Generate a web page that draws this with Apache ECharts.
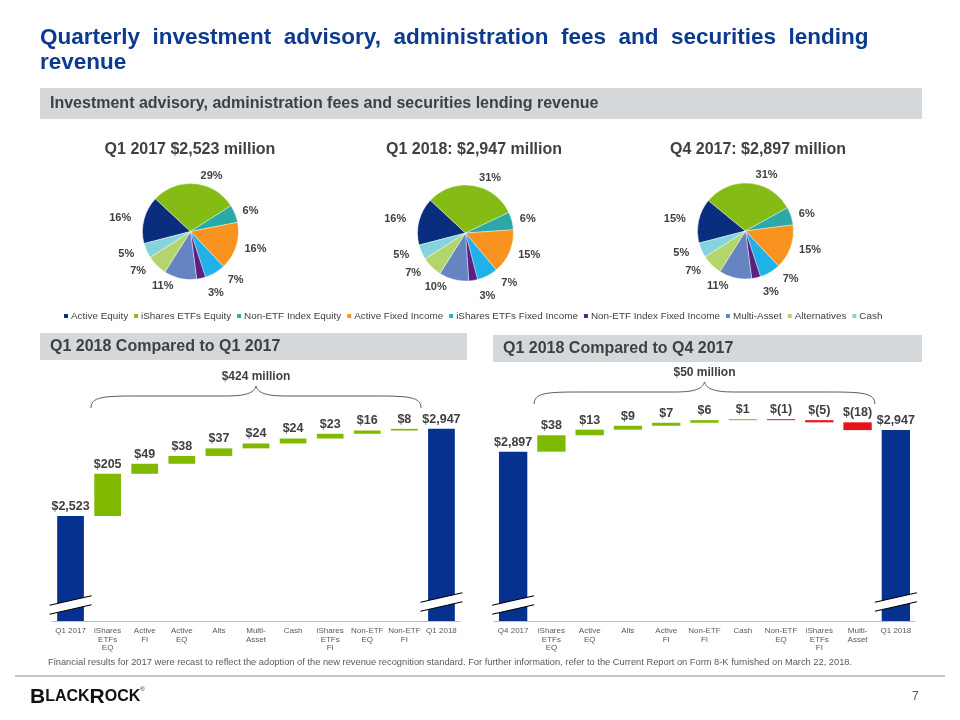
<!DOCTYPE html>
<html><head><meta charset="utf-8">
<script src="https://cdn.jsdelivr.net/npm/echarts@6/dist/echarts.min.js"></script>
<style>html,body{margin:0;padding:0;background:#fff}#c{width:960px;height:720px}</style>
</head><body><div id="c"></div>
<script>
// ---------- data ----------
const segments = ['Active Equity','iShares ETFs Equity','Non-ETF Index Equity','Active Fixed Income','iShares ETFs Fixed Income','Non-ETF Index Fixed Income','Multi-Asset','Alternatives','Cash'];
const segmentColors = ['#0a2d7e','#84bb14','#2aa9a8','#f7931e','#1fb1e8','#5b2180','#6683c2','#b4d56b','#85d3dc'];
const pieQ1_2017 = [16,29,6,16,7,3,11,7,5];
const pieQ1_2018 = [16,31,6,15,7,3,10,7,5];
const pieQ4_2017 = [15,31,6,15,7,3,11,7,5];
const pieTitles = ['Q1 2017 $2,523 million','Q1 2018: $2,947 million','Q4 2017: $2,897 million'];

const wf1Categories = ['Q1 2017','iShares\nETFs\nEQ','Active\nFI','Active\nEQ','Alts','Multi-\nAsset','Cash','iShares\nETFs\nFI','Non-ETF\nEQ','Non-ETF\nFI','Q1 2018'];
const wf1Start = 2523;
const wf1Changes = [205,49,38,37,24,24,23,16,8];
const wf1End = 2947;
const wf1Brace = '$424 million';

const wf2Categories = ['Q4 2017','iShares\nETFs\nEQ','Active\nEQ','Alts','Active\nFI','Non-ETF\nFI','Cash','Non-ETF\nEQ','iShares\nETFs\nFI','Multi-\nAsset','Q1 2018'];
const wf2Start = 2897;
const wf2Changes = [38,13,9,7,6,1,-1,-5,-18];
const wf2End = 2947;
const wf2Brace = '$50 million';

// ---------- helpers ----------
const FONT = "'Liberation Sans', Arial, sans-serif";
const GRAY = '#404040';
const BLUE = '#06318f', GREEN = '#7fba00', RED = '#e8141c';
function money(v){ return v < 0 ? '$(' + Math.abs(v) + ')' : '$' + v.toLocaleString('en-US'); }

function buildWaterfall(start, changes, end){
  const base = ['-'], delta = ['-'];
  let run = start;
  changes.forEach(c => {
    if (c >= 0) { base.push(run); delta.push({value:c, itemStyle:{color:GREEN}}); }
    else { base.push(run + c); delta.push({value:-c, itemStyle:{color:RED}}); }
    run += c;
  });
  base.push('-'); delta.push('-');
  const total = [start].concat(changes.map(() => '-'), [end]);
  return {base, delta, total};
}
const w1 = buildWaterfall(wf1Start, wf1Changes, wf1End);
const w2 = buildWaterfall(wf2Start, wf2Changes, wf2End);

const labelStyle = {show:true, position:'top', distance:3, color:GRAY, fontSize:12.5, fontWeight:'bold', fontFamily:FONT};

function wfSeries(w, changes, idx, bw){
  return [
    {type:'bar', xAxisIndex:idx, yAxisIndex:idx, stack:'wf'+idx, data:w.base, barWidth:bw,
     itemStyle:{color:'transparent'}, silent:true, emphasis:{disabled:true}},
    {type:'bar', xAxisIndex:idx, yAxisIndex:idx, stack:'wf'+idx, data:w.delta, barWidth:bw, barMinHeight:1,
     label:Object.assign({}, labelStyle, {formatter: p => money(changes[p.dataIndex-1])})},
    {type:'bar', xAxisIndex:idx, yAxisIndex:idx, data:w.total, barWidth:bw, barGap:'-100%',
     itemStyle:{color:BLUE}, label:Object.assign({}, labelStyle, {formatter: p => money(p.value)})}
  ];
}

function pieSeries(vals, center){
  return {type:'pie', radius:48, center:center, startAngle:194.6, clockwise:true,
    data: segments.map((n,i)=>({name:n, value:vals[i], itemStyle:{color:segmentColors[i]}})),
    itemStyle:{borderColor:'#fff', borderWidth:0.4},
    label:{show:true, position:'outside', formatter:'{c}%', color:GRAY, fontSize:11, fontWeight:'bold', fontFamily:FONT},
    labelLine:{show:false, length:8, length2:0},
    emphasis:{disabled:true}};
}

const axisLabel = {interval:0, color:'#595959', fontSize:8, fontFamily:FONT, lineHeight:8.5, margin:6};

const chart = echarts.init(document.getElementById('c'), null, {renderer:'canvas'});
const option = {
  animation:false,
  textStyle:{fontFamily:FONT},
  legend:{data:segments, left:62, top:311, padding:0, icon:'rect', itemWidth:6, itemHeight:6, itemGap:4,
    textStyle:{color:GRAY, fontSize:9.9, fontFamily:FONT, padding:[0,0,0,-3]}},
  grid:[
    {left:52, width:408, top:380, bottom:99, containLabel:false},
    {left:494, width:421, top:380, bottom:99, containLabel:false}
  ],
  xAxis:[
    {type:'category', gridIndex:0, data:wf1Categories, axisTick:{show:false}, axisLine:{lineStyle:{color:'#bfbfbf'}}, axisLabel:axisLabel},
    {type:'category', gridIndex:1, data:wf2Categories, axisTick:{show:false}, axisLine:{lineStyle:{color:'#bfbfbf'}}, axisLabel:axisLabel}
  ],
  yAxis:[
    {type:'value', gridIndex:0, min:2011, max:3185, show:false, splitLine:{show:false}},
    {type:'value', gridIndex:1, min:2505, max:3063, show:false, splitLine:{show:false}}
  ],
  series:[
    pieSeries(pieQ1_2017, [190.5, 231.5]),
    pieSeries(pieQ1_2018, [465.5, 233]),
    pieSeries(pieQ4_2017, [745.5, 231]),
    ...wfSeries(w1, wf1Changes, 0, '72%'),
    ...wfSeries(w2, wf2Changes, 1, '74%')
  ]
};
chart.setOption(option);

// ---------- decorations (positioned from the chart's own scales) ----------
const g = [];
g.push({type:'text', x:40, y:37, z:10, style:{text:'Quarterly  investment  advisory,  administration  fees  and  securities  lending\nrevenue', fill:'#0c3a8e', font:'bold 22.5px '+FONT, lineHeight:25, verticalAlign:'top', y:-12}});
g.push({type:'rect', shape:{x:40, y:88, width:882, height:31}, style:{fill:'#d5d8db'}, z:1});
g.push({type:'text', x:50, y:104, z:10, style:{text:'Investment advisory, administration fees and securities lending revenue', fill:GRAY, font:'bold 16px '+FONT, verticalAlign:'middle'}});
[[190, pieTitles[0]],[474, pieTitles[1]],[758, pieTitles[2]]].forEach(([x,t])=>{
  g.push({type:'text', x:x, y:150, z:10, style:{text:t, fill:GRAY, font:'bold 16px '+FONT, align:'center', verticalAlign:'middle'}});
});
g.push({type:'rect', shape:{x:40, y:333, width:427, height:27}, style:{fill:'#d5d8db'}, z:1});
g.push({type:'text', x:50, y:346.5, z:10, style:{text:'Q1 2018 Compared to Q1 2017', fill:GRAY, font:'bold 16px '+FONT, verticalAlign:'middle'}});
g.push({type:'rect', shape:{x:493, y:335, width:429, height:27}, style:{fill:'#d5d8db'}, z:1});
g.push({type:'text', x:503, y:348.5, z:10, style:{text:'Q1 2018 Compared to Q4 2017', fill:GRAY, font:'bold 16px '+FONT, verticalAlign:'middle'}});

function decorate(idx, cats, yMin, braceText, labelY){
  const cx = i => chart.convertToPixel({xAxisIndex:idx}, i);
  const base = chart.convertToPixel({yAxisIndex:idx}, yMin);
  const step = cx(1) - cx(0);
  // axis breaks on the two total bars
  [0, cats.length-1].forEach((i, n)=>{
    const c = cx(i), ym = base - (n === 0 ? 16 : 19), k = 10/44, h = 21, gap = 4.5;
    const yu = x => ym - gap - (x - c)*k, yl = x => ym + gap - (x - c)*k;
    g.push({type:'polygon', z:50, shape:{points:[[c-h,yu(c-h)],[c+h,yu(c+h)],[c+h,yl(c+h)],[c-h,yl(c-h)]]}, style:{fill:'#fff'}});
    g.push({type:'line', z:51, shape:{x1:c-h, y1:yu(c-h), x2:c+h, y2:yu(c+h)}, style:{stroke:'#000', lineWidth:1.1}});
    g.push({type:'line', z:51, shape:{x1:c-h, y1:yl(c-h), x2:c+h, y2:yl(c+h)}, style:{stroke:'#000', lineWidth:1.1}});
  });
  // curly brace
  const x0 = cx(1) - step*0.45, x1 = cx(cats.length-2) + step*0.45, mid = (x0+x1)/2;
  const yEnd = labelY + 31, yLine = labelY + 19, yTip = labelY + 9;
  const st = {fill:null, stroke:'#595959', lineWidth:1};
  g.push({type:'bezierCurve', z:20, shape:{x1:x0, y1:yEnd, cpx1:x0, cpy1:yLine+1, cpx2:x0+12, cpy2:yLine, x2:x0+45, y2:yLine}, style:st});
  g.push({type:'line', z:20, shape:{x1:x0+45, y1:yLine, x2:mid-30, y2:yLine}, style:st});
  g.push({type:'bezierCurve', z:20, shape:{x1:mid-30, y1:yLine, cpx1:mid-10, cpy1:yLine, cpx2:mid-2, cpy2:yLine-3, x2:mid, y2:yTip}, style:st});
  g.push({type:'bezierCurve', z:20, shape:{x1:mid, y1:yTip, cpx1:mid+2, cpy1:yLine-3, cpx2:mid+10, cpy2:yLine, x2:mid+30, y2:yLine}, style:st});
  g.push({type:'line', z:20, shape:{x1:mid+30, y1:yLine, x2:x1-45, y2:yLine}, style:st});
  g.push({type:'bezierCurve', z:20, shape:{x1:x1-45, y1:yLine, cpx1:x1-12, cpy1:yLine, cpx2:x1, cpy2:yLine+1, x2:x1, y2:yEnd}, style:st});
  g.push({type:'text', x:mid, y:labelY, z:20, style:{text:braceText, fill:GRAY, font:'bold 12px '+FONT, align:'center', verticalAlign:'middle'}});
}
decorate(0, wf1Categories, 2011, wf1Brace, 377);
decorate(1, wf2Categories, 2505, wf2Brace, 373);

g.push({type:'text', x:48, y:662, z:10, style:{text:'Financial results for 2017 were recast to reflect the adoption of the new revenue recognition standard. For further information, refer to the Current Report on Form 8-K furnished on March 22, 2018.', fill:'#595959', font:'9.3px '+FONT, verticalAlign:'middle'}});
g.push({type:'line', z:10, shape:{x1:15, y1:676, x2:945, y2:676}, style:{stroke:'#8c8c8c', lineWidth:1}});
g.push({type:'text', x:30, y:697, z:10, style:{text:'{b|B}{s|LACK}{b|R}{s|OCK}{r|®}', verticalAlign:'middle',
  rich:{b:{fontSize:21, fontFamily:FONT, fill:'#111', fontWeight:'bold'}, s:{fontSize:16, fontFamily:FONT, fill:'#111', fontWeight:'bold'}, r:{fontSize:6, fontFamily:FONT, fill:'#111', verticalAlign:'top', padding:[0,0,10,0]}}}});
g.push({type:'text', x:912, y:697, z:10, style:{text:'7', fill:'#595959', font:'12px '+FONT, verticalAlign:'middle'}});

chart.setOption({graphic:g});
</script>
</body></html>
